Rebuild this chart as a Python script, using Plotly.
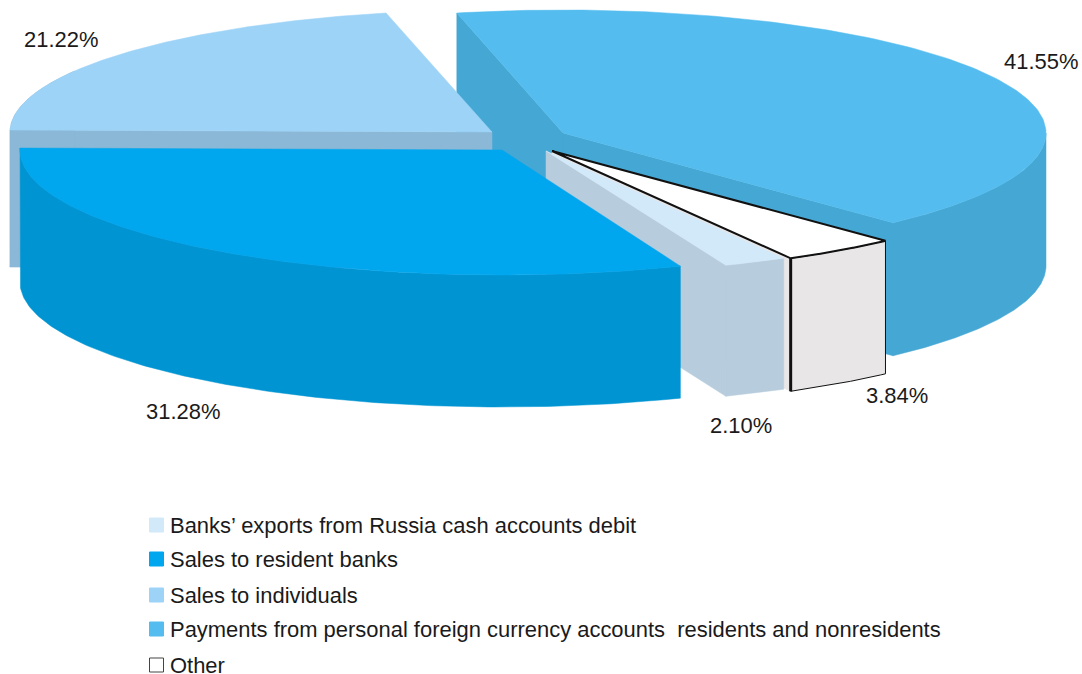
import numpy as np
import plotly.graph_objects as go

# Data, in clockwise drawing order round the pie
CATEGORIES = ["Payments from personal foreign currency accounts  residents and nonresidents",
              "Other",
              "Banks\u2019 exports from Russia cash accounts debit",
              "Sales to resident banks",
              "Sales to individuals"]
SHARES = [41.55, 3.84, 2.10, 31.28, 21.22]
LABELS = ["41.55%", "3.84%", "2.10%", "31.28%", "21.22%"]
LEGEND_ORDER = [2, 3, 4, 0, 1]

# Styles
TOP = ["#54bcee", "#ffffff", "#d2e9fa", "#00a7ee", "#9dd3f7"]
WALL = ["#45a7d3", "#e8e6e6", "#b7ccdc", "#0095d2", "#8ab8d6"]
APEX = [(563, 133), (552, 151), (546, 151), (502, 150), (492, 132)]
RADII = [483, 488, 486, 482, 482]
RYS = [123, 123, 123, 125, 122]
DEPTHS = [133, 133, 131, 132, 137]
START = -12.7
LABEL_POS = [(1041, 61), (897, 395), (741, 425), (183, 411), (61, 39)]
LEG_Y = [525, 559, 595, 629, 665]
FONT = dict(family="Liberation Sans", size=21.95, color="#1a1a1a")

fracs = np.array(SHARES) / sum(SHARES) * 360
ends = START + np.cumsum(fracs)
starts = ends - fracs


def pt(i, deg):
    a = np.radians(deg)
    return APEX[i][0] + RADII[i] * np.sin(a), APEX[i][1] - RYS[i] * np.cos(a)


def arc(i, a0, a1):
    return pt(i, np.linspace(a0, a1, 160))


fig = go.Figure()


def poly(xs, ys, fill, line=None, width=0):
    fig.add_trace(go.Scatter(x=list(xs), y=list(ys), mode="lines", fill="toself", fillcolor=fill,
                             line=dict(color=line or fill, width=width or 0.5),
                             hoverinfo="skip", showlegend=False))


def cut_wall(i, deg, fill):
    ax, ay = APEX[i]
    ex, ey = pt(i, deg)
    d = DEPTHS[i]
    poly([ax, ex, ex, ax, ax], [ay, ey, ey + d, ay + d, ay], fill)


def outer_wall(i, a0, a1, fill, line=None, width=0):
    x, y = arc(i, a0, a1)
    poly(np.r_[x, x[::-1], x[0]], np.r_[y, y[::-1] + DEPTHS[i], y[0]], fill, line, width)


def top(i, line=None, width=0):
    x, y = arc(i, starts[i], ends[i])
    ax, ay = APEX[i]
    poly(np.r_[ax, x, ax], np.r_[ay, y, ay], TOP[i], line, width)


# Payments: both cut faces, outer wall, top
cut_wall(0, starts[0], WALL[0])
cut_wall(0, ends[0], WALL[0])
outer_wall(0, 90, ends[0], WALL[0])
top(0)

# Sales to individuals
cut_wall(4, starts[4], WALL[4])
outer_wall(4, starts[4], 300, WALL[4])
top(4)

# Other: its cut face sits behind Banks' exports
cut_wall(1, ends[1], WALL[1])
outer_wall(1, starts[1], ends[1], WALL[1], "#111111", 1)
top(1, "#111111", 2)
ex, ey = pt(1, ends[1])
fig.add_trace(go.Scatter(x=[ex, ex], y=[ey, ey + DEPTHS[1]], mode="lines",
                         line=dict(color="#111111", width=3), hoverinfo="skip", showlegend=False))

# Banks' exports
cut_wall(2, ends[2], WALL[2])
outer_wall(2, starts[2], ends[2], WALL[2])
top(2)

# Sales to resident banks
outer_wall(3, starts[3], ends[3], WALL[3])
top(3)

annotations = []
for t, (x, y) in zip(LABELS, LABEL_POS):
    annotations.append(dict(x=x, y=y, text=t, showarrow=False, xref="x", yref="y", font=FONT))
shapes = []
for k, i in enumerate(LEGEND_ORDER):
    y = LEG_Y[k]
    annotations.append(dict(x=168, y=y, text=CATEGORIES[i], showarrow=False, xref="x", yref="y",
                            xanchor="left", font=FONT))
    is_white = TOP[i] == "#ffffff"
    shapes.append(dict(type="rect", xref="x", yref="y", x0=149.5, x1=163.5, y0=y - 7, y1=y + 7,
                       fillcolor=TOP[i], line=dict(color="#444444" if is_white else TOP[i], width=1)))

fig.update_layout(
    width=1082, height=674, margin=dict(l=0, r=0, t=0, b=0),
    paper_bgcolor="white", plot_bgcolor="white", showlegend=False,
    xaxis=dict(range=[0, 1082], visible=False, fixedrange=True),
    yaxis=dict(range=[674, 0], visible=False, fixedrange=True),
    annotations=annotations, shapes=shapes,
)
fig.write_html("out.html", config=dict(displayModeBar=False),
               post_script="document.body.style.margin='0';document.documentElement.style.overflow='hidden';")
